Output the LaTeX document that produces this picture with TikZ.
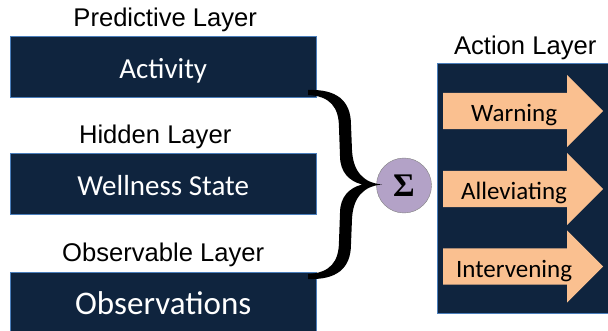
\documentclass[tikz,border=0pt]{standalone}
\usepackage{fontspec}
\setmainfont{Liberation Sans}
\newfontfamily\boxfont{Carlito}
\newfontfamily\sumfont{Liberation Serif}
\usepackage{xcolor}
\definecolor{navyDark}{HTML}{0F243E}
\definecolor{navyEdge}{HTML}{4A7EBB}
\definecolor{arrowPeach}{HTML}{FAC090}
\definecolor{sumPurple}{HTML}{B3A2C7}
\usepackage{tikz}
\usetikzlibrary{shapes,arrows,positioning,calc,arrows.meta,shapes.misc}
\tikzset{%
  layerBox/.style={%
    rectangle,
    draw=navyEdge,
    fill=navyDark,
    text=white,
    minimum width=306pt,
    minimum height=61pt,
    inner sep=0pt,
    text height=26pt,
    text depth=3pt,
    font=\boxfont\fontsize{29}{29}\selectfont
  },
  layerLabel/.style={%
    inner sep=0pt,
    font=\fontsize{25.6}{26}\selectfont
  }
}

\begin{document}
\begin{tikzpicture}[x=1pt, y=-1pt]
            % Styles for the action side
            \tikzset{%
                actionBox/.style={%
                        rectangle,
                        draw=navyEdge,
                        fill=navyDark,
                        minimum width=176pt,
                        minimum height=250pt,
                        inner sep=0pt
                    },
                actionArrow/.style={%
                        single arrow,
                        fill=arrowPeach,
                        single arrow head extend=18pt,
                        minimum height=160pt,
                        inner ysep=0pt,
                        text height=29pt,
                        text depth=7pt,
                        font=\boxfont\fontsize{25}{25}\selectfont
                    },
                sumCircle/.style={%
                        circle,
                        draw=gray,
                        fill=sumPurple,
                        minimum size=55pt,
                        inner sep=0pt,
                        font=\sumfont\bfseries\fontsize{33}{33}\selectfont
                    }
            }
            \useasboundingbox (0,0) rectangle (608,331);

            % Left column of layers
            \node[layerBox, anchor=north west] (activity) at (10,36) {Activity};
            \node[layerBox, below=56pt of activity] (wellness) {Wellness State};
            \node[layerBox, below=57pt of wellness,
                  font=\boxfont\fontsize{33}{33}\selectfont] (observations) {Observations};

            \node[layerLabel, above=9pt of activity, anchor=base, xshift=2pt] (predictiveLabel) {Predictive Layer};
            \node[layerLabel, above=10pt of wellness, anchor=base, xshift=-8pt] (hiddenLabel) {Hidden Layer};
            \node[layerLabel, above=10pt of observations, anchor=base] (observableLabel) {Observable Layer};

            % Sum of the layers
            \node[sumCircle] (sum) at (404,185.5) {Σ};

            % Curly brace
            \fill[black] (308,90) .. controls (336,89) and (351,100) .. (351,125)
                -- (352,150) .. controls (353,172) and (364,183) .. (382,184.5)
                .. controls (364,186) and (353,197) .. (352,219)
                -- (351,244) .. controls (351,269) and (336,280) .. (308,279)
                -- (308,274) .. controls (330,273) and (339,262) .. (339,241)
                -- (340,213) .. controls (340,197) and (349,188) .. (362,184.5)
                .. controls (349,181) and (340,172) .. (340,156)
                -- (339,128) .. controls (339,107) and (330,96) .. (308,95) -- cycle;

            % Action layer with three arrows
            \node[actionBox, anchor=north west] (action) at (437,63) {};
            \node[layerLabel, above=8pt of action, anchor=base] (actionLabel) {Action Layer};

            \node[actionArrow, anchor=tail] (warning) at (443,111) {Warning};
            \node[actionArrow, anchor=tail] (alleviating) at (443,189) {Alleviating};
            \node[actionArrow, anchor=tail] (intervening) at (443,266.5) {Intervening};
        \end{tikzpicture}
\end{document}
